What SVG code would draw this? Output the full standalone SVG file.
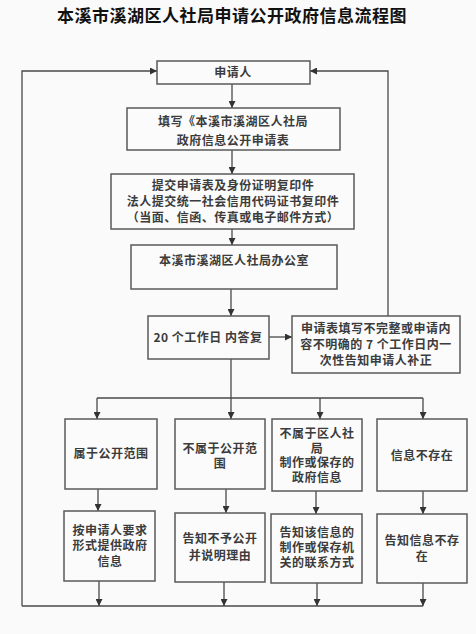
<svg xmlns="http://www.w3.org/2000/svg" width="476" height="634" viewBox="0 0 476 634">
<defs>
<style>
.bg{fill:#fafafa}
.box{fill:#fbfbfb;stroke:#5a5a5a;stroke-width:1.5}
.t{font-family:"Noto Sans CJK SC","Noto Sans",sans-serif;font-size:12px;font-weight:bold;fill:#3c3c3c;text-anchor:middle;letter-spacing:0.5px}
.title{font-family:"Noto Sans CJK SC","Noto Sans",sans-serif;font-size:17px;font-weight:bold;fill:#111;text-anchor:middle;letter-spacing:0.5px}
.c{fill:none;stroke:#4a4a4a;stroke-width:1.3}
</style>
<marker id="ah" markerUnits="userSpaceOnUse" markerWidth="7" markerHeight="7" refX="7" refY="3.5" orient="auto">
<path d="M0,0 L7,3.5 L0,7 z" fill="#333"/>
</marker>
</defs>
<rect class="bg" x="0" y="0" width="476" height="634"/>
<text class="title" x="232" y="22">本溪市溪湖区人社局申请公开政府信息流程图</text>

<g id="connectors">
<path class="c" d="M22,606 H423 M22,606 V71 H157" marker-end="url(#ah)"/>
<path class="c" d="M388,316 V71 H310" marker-end="url(#ah)"/>
<path class="c" d="M232,84 V108" marker-end="url(#ah)"/>
<path class="c" d="M232,150 V174" marker-end="url(#ah)"/>
<path class="c" d="M232,229 V245" marker-end="url(#ah)"/>
<path class="c" d="M231,289 V316" marker-end="url(#ah)"/>
<path class="c" d="M269,337 H292" marker-end="url(#ah)"/>
<path class="c" d="M231,359 V398 M97,398 H423"/>
<path class="c" d="M97,398 V419" marker-end="url(#ah)"/>
<path class="c" d="M231,398 V419" marker-end="url(#ah)"/>
<path class="c" d="M320,398 V419" marker-end="url(#ah)"/>
<path class="c" d="M423,398 V419" marker-end="url(#ah)"/>
<path class="c" d="M98,489 V511" marker-end="url(#ah)"/>
<path class="c" d="M226,489 V513" marker-end="url(#ah)"/>
<path class="c" d="M316,491 V514" marker-end="url(#ah)"/>
<path class="c" d="M423,491 V514" marker-end="url(#ah)"/>
<path class="c" d="M99,581 V606" marker-end="url(#ah)"/>
<path class="c" d="M224,582 V606" marker-end="url(#ah)"/>
<path class="c" d="M317,583 V606" marker-end="url(#ah)"/>
<path class="c" d="M423,583 V606" marker-end="url(#ah)"/>
</g>

<g id="applicant">
<rect class="box" x="157" y="61" width="153" height="23"/>
<text class="t" x="233" y="77">申请人</text>
</g>
<g id="fill-form">
<rect class="box" x="127" y="108" width="213" height="42"/>
<text class="t" x="233" y="126">填写《本溪市溪湖区人社局<tspan x="233" dy="19">政府信息公开申请表</tspan></text>
</g>
<g id="submit">
<rect class="box" x="111" y="174" width="243" height="55"/>
<text class="t" x="233" y="190">提交申请表及身份证明复印件<tspan x="233" dy="16">法人提交统一社会信用代码证书复印件</tspan><tspan x="233" dy="16">（当面、信函、传真或电子邮件方式）</tspan></text>
</g>
<g id="office">
<rect class="box" x="131" y="245" width="206" height="44"/>
<text class="t" x="234" y="265">本溪市溪湖区人社局办公室</text>
</g>
<g id="reply">
<rect class="box" x="148" y="316" width="121" height="43"/>
<text class="t" x="208" y="342">20 个工作日 内答复</text>
</g>
<g id="supplement">
<rect class="box" x="292" y="316" width="168" height="57"/>
<text class="t" x="376" y="333">申请表填写不完整或申请内<tspan x="376" dy="16">容不明确的 7 个工作日内一</tspan><tspan x="376" dy="16">次性告知申请人补正</tspan></text>
</g>

<g id="public">
<rect class="box" x="65" y="419" width="92" height="70"/>
<text class="t" x="111" y="458">属于公开范围</text>
</g>
<g id="not-public">
<rect class="box" x="175" y="419" width="90" height="70"/>
<text class="t" x="220" y="453">不属于公开范<tspan x="220" dy="15">围</tspan></text>
</g>
<g id="not-bureau">
<rect class="box" x="272" y="419" width="90" height="72"/>
<text class="t" x="317" y="438">不属于区人社<tspan x="317" dy="15">局</tspan><tspan x="317" dy="14">制作或保存的</tspan><tspan x="317" dy="15">政府信息</tspan></text>
</g>
<g id="not-exist">
<rect class="box" x="377" y="419" width="90" height="72"/>
<text class="t" x="422" y="460">信息不存在</text>
</g>

<g id="provide">
<rect class="box" x="64" y="511" width="91" height="70"/>
<text class="t" x="110" y="535">按申请人要求<tspan x="110" dy="15">形式提供政府</tspan><tspan x="110" dy="16">信息</tspan></text>
</g>
<g id="refuse">
<rect class="box" x="175" y="513" width="90" height="69"/>
<text class="t" x="220" y="543">告知不予公开<tspan x="220" dy="17">并说明理由</tspan></text>
</g>
<g id="contact">
<rect class="box" x="271" y="514" width="91" height="69"/>
<text class="t" x="317" y="537">告知该信息的<tspan x="317" dy="15">制作或保存机</tspan><tspan x="317" dy="15">关的联系方式</tspan></text>
</g>
<g id="tell-not-exist">
<rect class="box" x="377" y="514" width="90" height="69"/>
<text class="t" x="422" y="545">告知信息不存<tspan x="422" dy="16">在</tspan></text>
</g>
</svg>
